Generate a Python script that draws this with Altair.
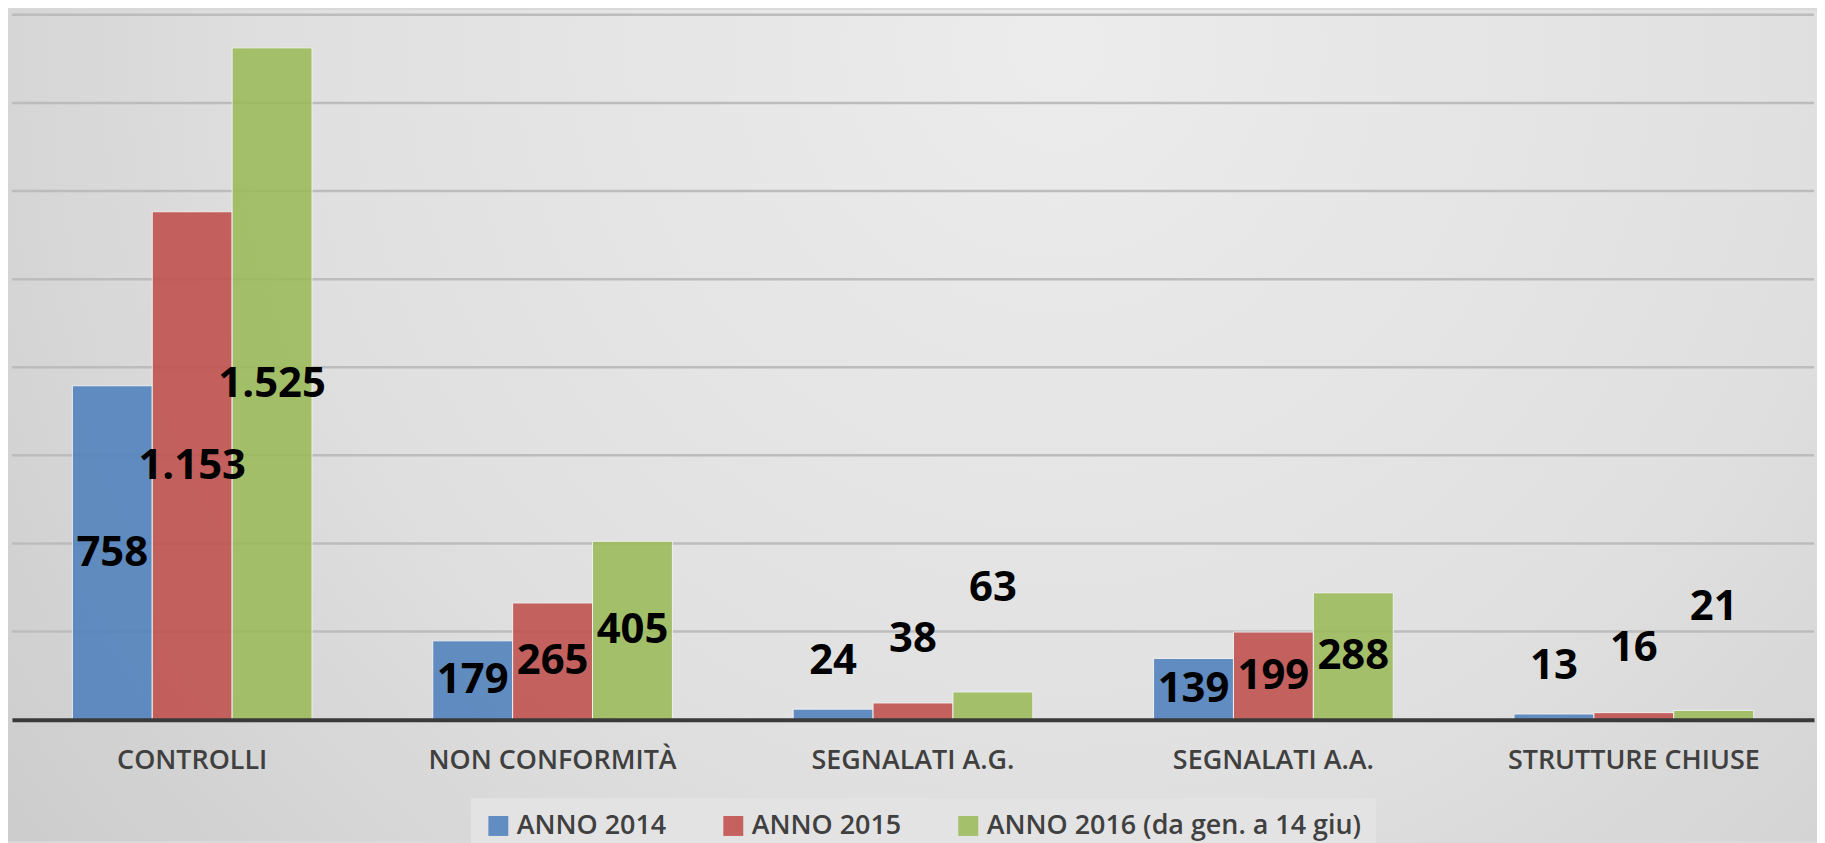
import altair as alt
import pandas as pd

# ---- data ----
categories = ["CONTROLLI", "NON CONFORMITÀ", "SEGNALATI A.G.", "SEGNALATI A.A.", "STRUTTURE CHIUSE"]
series_names = ["ANNO 2014", "ANNO 2015", "ANNO 2016 (da gen. a 14 giu)"]
anno_2014 = [758, 179, 24, 139, 13]
anno_2015 = [1153, 265, 38, 199, 16]
anno_2016 = [1525, 405, 63, 288, 21]
y_ticks = [200, 400, 600, 800, 1000, 1200, 1400, 1600]

colors = ["#4F81BD", "#C0504D", "#9BBB59"]

rows = []
for s_idx, (name, vals) in enumerate(zip(series_names, [anno_2014, anno_2015, anno_2016])):
    for cat, v in zip(categories, vals):
        rows.append({"categoria": cat, "serie": name, "sidx": s_idx, "valore": v})
df = pd.DataFrame(rows)
grid_df = pd.DataFrame({"livello": y_ticks})

# ---- layout ----
W, H = 1810, 708
PAD = {"left": 4, "right": 3, "top": 5, "bottom": 122}
FONT = "Open Sans"

x_enc = alt.X(
    "categoria:N",
    sort=categories,
    scale=alt.Scale(paddingInner=0.335, paddingOuter=0.1675),
    axis=alt.Axis(
        title=None, labelAngle=0, labelFont=FONT, labelFontSize=27, labelFontWeight=600,
        labelColor="#404040", labelPadding=41, labelBaseline="middle", ticks=False, tickSize=0,
        domainColor="#3a3a3a", domainWidth=4, labelLimit=500, grid=False, zindex=1,
    ),
)
xo_enc = alt.XOffset("serie:N", sort=series_names, scale=alt.Scale(paddingInner=0, paddingOuter=0))
y_scale = alt.Scale(domain=[0, 1600], nice=False)

bg = alt.Chart(alt.Data(values=[{}])).mark_rect(
    color=alt.RadialGradient(
        gradient="radial",
        stops=[
            alt.GradientStop(offset=0, color="#ececec"),
            alt.GradientStop(offset=0.55, color="#e0e0e0"),
            alt.GradientStop(offset=1, color="#cbcbcb"),
        ],
        x1=0.58, y1=0.29, r1=0, x2=0.58, y2=0.29, r2=0.75,
    )
).encode(
    x=alt.value(-PAD["left"]), x2=alt.value(W + PAD["right"]),
    y=alt.value(-PAD["top"]), y2=alt.value(H + PAD["bottom"]),
)

grid = alt.Chart(grid_df).mark_rule(color="#bcbcbc", strokeWidth=2.5).encode(
    y=alt.Y("livello:Q", scale=y_scale, axis=None),
)

base = alt.Chart(df)

bars = base.mark_bar(opacity=0.88, stroke="#f2f2f2", strokeWidth=1).encode(
    x=x_enc,
    xOffset=xo_enc,
    y=alt.Y("valore:Q", scale=y_scale, axis=None),
    color=alt.Color(
        "serie:N",
        sort=series_names,
        scale=alt.Scale(domain=series_names, range=colors),
        legend=alt.Legend(
            title=None, orient="none", direction="horizontal", legendX=461, legendY=787,
            symbolType="square", symbolSize=400, symbolStrokeWidth=0, symbolOpacity=0.88,
            labelFont=FONT, labelFontSize=27, labelFontWeight=600, labelColor="#404040",
            labelLimit=600, labelOffset=5, columnPadding=53, padding=14,
            fillColor="#e3e3e3",
        ),
    ),
)

labels = base.transform_calculate(
    pos="datum.valore >= 100 ? datum.valore / 2 : datum.valore + [109, 146, 235][datum.sidx]",
    lab="replace(format(datum.valore, ','), ',', '.')",
).mark_text(
    font=FONT, fontWeight="bold", fontSize=42, color="#000000", align="center", baseline="middle"
).encode(
    x=x_enc,
    xOffset=xo_enc,
    y=alt.Y("pos:Q", scale=y_scale, axis=None),
    text="lab:N",
)

chart = alt.layer(bg, grid, bars, labels).properties(
    width=W, height=H,
    autosize=alt.AutoSizeParams(type="none"),
    padding=PAD,
).configure_view(stroke=None).configure(background="#d9d9d9")

chart.save("out.html", embed_options={"renderer": "svg", "actions": False})
